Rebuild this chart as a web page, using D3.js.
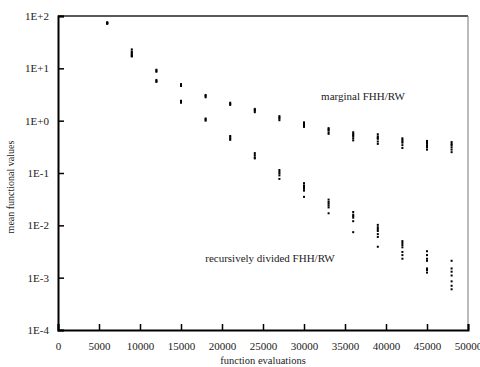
<!doctype html>
<html>
<head>
<meta charset="utf-8">
<script src="https://cdnjs.cloudflare.com/ajax/libs/d3/7.8.5/d3.min.js"></script>
<style>
body { margin: 0; background: #fff; }
svg { display: block; font-family: "Liberation Serif", "Times New Roman", serif; }
</style>
</head>
<body>
<svg width="480" height="367"></svg>
<script>
// evaluations at which the runs were sampled
var evals = [6000, 9000, 12000, 15000, 18000, 21000, 24000, 27000, 30000, 33000, 36000, 39000, 42000, 45000, 48000];

// marginal FHH/RW, one list of run values per evaluation count
var marginal = [
    [76, 73, 71],
    [23, 21, 19, 17],
    [9.4, 9.0, 8.6],
    [5.0, 4.8, 4.6],
    [3.1, 2.95, 2.8],
    [2.2, 2.1, 2.0],
    [1.68, 1.6, 1.55, 1.45],
    [1.22, 1.15, 1.1, 1.02],
    [0.93, 0.88, 0.85, 0.8, 0.76],
    [0.72, 0.68, 0.66, 0.6, 0.56],
    [0.6, 0.56, 0.53, 0.5, 0.46, 0.42],
    [0.55, 0.5, 0.47, 0.45, 0.4, 0.36],
    [0.46, 0.43, 0.4, 0.38, 0.34, 0.3],
    [0.41, 0.38, 0.36, 0.33, 0.31, 0.28],
    [0.39, 0.36, 0.34, 0.31, 0.28, 0.25]
];

// recursively divided FHH/RW
var recursive = [
    [74, 72],
    [20, 18, 17],
    [6.0, 5.7, 5.5],
    [2.4, 2.3, 2.2],
    [1.1, 1.05, 1.0],
    [0.51, 0.48, 0.45, 0.43],
    [0.24, 0.22, 0.2, 0.19],
    [0.114, 0.105, 0.098, 0.09, 0.077],
    [0.064, 0.058, 0.054, 0.05, 0.046, 0.035],
    [0.031, 0.028, 0.026, 0.024, 0.022, 0.017],
    [0.018, 0.016, 0.015, 0.014, 0.012, 0.0074],
    [0.0102, 0.0092, 0.0085, 0.0078, 0.0068, 0.006, 0.0039],
    [0.005, 0.0046, 0.0042, 0.0038, 0.0031, 0.0027, 0.0023],
    [0.0032, 0.0027, 0.0023, 0.0021, 0.0015, 0.0014, 0.00125],
    [0.0021, 0.0015, 0.0013, 0.0011, 0.00085, 0.0007, 0.0006]
];

var xTicks = [0, 5000, 10000, 15000, 20000, 25000, 30000, 35000, 40000, 45000, 50000];
var yTicks = [1e2, 1e1, 1e0, 1e-1, 1e-2, 1e-3, 1e-4];
var yTickLabels = ["1E+2", "1E+1", "1E+0", "1E-1", "1E-2", "1E-3", "1E-4"];

var svg = d3.select("svg");
var pLeft = 58, pRight = 468, pTop = 16, pBottom = 330;

var xScale = d3.scaleLinear().domain([0, 50000]).range([pLeft, pRight]);
var yScale = d3.scaleLog().domain([1e-4, 1e2]).range([pBottom, pTop]);

// frame: thin top/right, heavy left/bottom
svg.append("line").attr("x1", pLeft).attr("x2", pRight).attr("y1", pTop).attr("y2", pTop)
    .attr("stroke", "#222").attr("stroke-width", 1.5);
svg.append("line").attr("x1", pRight).attr("x2", pRight).attr("y1", pTop).attr("y2", pBottom)
    .attr("stroke", "#777").attr("stroke-width", 1);

var xAxis = d3.axisBottom(xScale).tickValues(xTicks).tickSize(-6).tickPadding(12)
    .tickFormat(d3.format("d"));
var xg = svg.append("g").attr("transform", "translate(0," + pBottom + ")").call(xAxis);

var yAxis = d3.axisLeft(yScale).tickValues(yTicks).tickSize(-6).tickPadding(9)
    .tickFormat((d, i) => yTickLabels[i]);
var yg = svg.append("g").attr("transform", "translate(" + pLeft + ",0)").call(yAxis);

[xg, yg].forEach(function (g) {
    g.select(".domain").attr("stroke", "#000").attr("stroke-width", 2);
    g.selectAll(".tick line").attr("stroke", "#000").attr("stroke-width", 1.5);
    g.selectAll(".tick text").attr("font-family", "Liberation Serif").attr("font-size", 11).attr("fill", "#222");
});

// flatten the runs into points
var points = [];
evals.forEach(function (e, i) {
    marginal[i].forEach(v => points.push({ x: e, v: v }));
    recursive[i].forEach(v => points.push({ x: e, v: v }));
});

svg.append("g").selectAll("rect")
    .data(points)
    .enter()
    .append("rect")
    .attr("x", d => xScale(d.x) - 1)
    .attr("y", d => yScale(d.v) - 1)
    .attr("width", 2)
    .attr("height", 2)
    .attr("fill", "#000");

// series labels
svg.append("text").attr("x", 363).attr("y", 100).attr("text-anchor", "middle")
    .attr("font-size", 11).attr("fill", "#222").text("marginal FHH/RW");
svg.append("text").attr("x", 270).attr("y", 262).attr("text-anchor", "middle")
    .attr("font-size", 11).attr("fill", "#222").text("recursively divided FHH/RW");

// axis titles
svg.append("text").attr("x", 263).attr("y", 364).attr("text-anchor", "middle")
    .attr("font-size", 10.5).attr("fill", "#222").text("function evaluations");
svg.append("text").attr("transform", "translate(14,187) rotate(-90)").attr("text-anchor", "middle")
    .attr("font-size", 10).attr("fill", "#222").text("mean functional values");
</script>
</body>
</html>
